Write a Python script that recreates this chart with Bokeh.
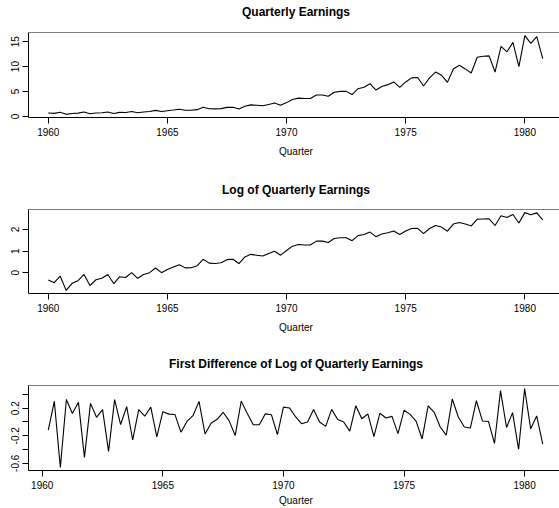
import numpy as np
from bokeh.plotting import figure
from bokeh.layouts import column
from bokeh.models import Range1d, FixedTicker, Span, Title
from bokeh.embed import file_html
from bokeh.resources import INLINE

# ---- data (quarterly earnings per share, 1960-1980) ----
years = list(range(1960, 1981))
quarter_offsets = [0.0, 0.25, 0.5, 0.75]
earnings_by_year = [
    [0.71, 0.63, 0.85, 0.44],
    [0.61, 0.69, 0.92, 0.55],
    [0.72, 0.77, 0.92, 0.60],
    [0.83, 0.80, 1.00, 0.77],
    [0.92, 1.00, 1.24, 1.00],
    [1.16, 1.30, 1.45, 1.25],
    [1.26, 1.38, 1.86, 1.56],
    [1.53, 1.59, 1.83, 1.86],
    [1.53, 2.07, 2.34, 2.25],
    [2.16, 2.43, 2.70, 2.25],
    [2.79, 3.42, 3.69, 3.60],
    [3.60, 4.32, 4.32, 4.05],
    [4.86, 5.04, 5.04, 4.41],
    [5.58, 5.85, 6.57, 5.31],
    [6.03, 6.39, 6.93, 5.85],
    [6.93, 7.74, 7.83, 6.12],
    [7.74, 8.91, 8.28, 6.84],
    [9.54, 10.26, 9.54, 8.73],
    [11.88, 12.06, 12.15, 8.91],
    [14.04, 12.96, 14.85, 9.99],
    [16.20, 14.67, 16.02, 11.61],
]
titles = ["Quarterly Earnings",
          "Log of Quarterly Earnings",
          "First Difference of Log of Quarterly Earnings"]
x_label = "Quarter"
x_ticks = [1960, 1965, 1970, 1975, 1980]
y_ticks_1 = [0, 5, 10, 15]
y_ticks_2 = [0, 1, 2]
y_ticks_3 = [-0.6, -0.4, -0.2, 0.0, 0.2, 0.4]
y_labels_3 = {-0.6: "-0.6", -0.4: "", -0.2: "-0.2", 0.0: "", 0.2: "0.2", 0.4: ""}

t = np.array([y + q for y in years for q in quarter_offsets])
earn = np.array([v for row in earnings_by_year for v in row])
log_earn = np.log(earn)
d_log = np.diff(log_earn)
t_d = t[1:]

FONT = "Liberation Sans"
FIG_W = 559
LEFT = 28
VISIBLE = 531.0 / 534.0   # reference plot box runs just past the right edge


def panel(x, y, title, yticks, overrides, height, top, bottom,
          title_off, spacer_standoff, xlab_off, xlab_standoff):
    px = 0.04 * (x.max() - x.min())
    x0 = x.min() - px
    x1 = x0 + (x.max() + px - x0) * VISIBLE
    py = 0.04 * (y.max() - y.min())
    y0, y1 = y.min() - py, y.max() + py
    p = figure(width=FIG_W, height=height, output_backend="svg", toolbar_location=None,
               x_range=Range1d(x0, x1), y_range=Range1d(y0, y1),
               min_border_left=LEFT, min_border_right=0,
               min_border_top=top, min_border_bottom=bottom,
               background_fill_color="white", border_fill_color="white")
    p.title.text = ""
    p.outline_line_color = None
    p.xgrid.visible = False
    p.ygrid.visible = False
    p.line(x, y, line_color="black", line_width=1.1)
    p.add_layout(Span(location=y1, dimension="width", line_color="black", line_width=1))

    for ax in (p.xaxis[0], p.yaxis[0]):
        ax.axis_line_color = "black"
        ax.axis_line_width = 1
        ax.major_tick_line_color = "black"
        ax.major_tick_out = 6
        ax.major_tick_in = 0
        ax.minor_tick_out = 0
        ax.minor_tick_in = 0
        ax.major_label_text_font = FONT
        ax.major_label_text_font_size = "10px"
        ax.major_label_text_color = "black"
    p.xaxis.ticker = FixedTicker(ticks=x_ticks)
    p.xaxis.major_label_standoff = 4
    p.yaxis.ticker = FixedTicker(ticks=yticks)
    p.yaxis.major_label_orientation = "vertical"
    p.yaxis.major_label_standoff = 3
    if overrides:
        p.yaxis.major_label_overrides = overrides

    # spacer between plot box and title, then the bold title itself
    p.add_layout(Title(text=" ", text_font=FONT, text_font_size="4px",
                       standoff=spacer_standoff), "above")
    p.add_layout(Title(text=title, text_font=FONT, text_font_size="12px",
                       text_font_style="bold", text_color="black",
                       align="left", offset=title_off, standoff=0,
                       vertical_align="top"), "above")
    p.add_layout(Title(text=x_label, text_font=FONT, text_font_size="10px",
                       text_font_style="normal", text_color="black",
                       align="left", offset=xlab_off, standoff=xlab_standoff,
                       vertical_align="bottom"), "below")
    return p


p1 = panel(t, earn, titles[0], y_ticks_1, None, 171, 32, 54, 213.5, 4.8, 250.5, 12.4)
p2 = panel(t, log_earn, titles[1], y_ticks_2, None, 175, 38, 53, 193.5, 3.8, 250.5, 12.4)
p3 = panel(t_d, d_log, titles[2], y_ticks_3, y_labels_3, 162, 39, 38, 140.5, 5.8, 250.5, 3.0)

layout = column(p1, p2, p3, spacing=0)
open("out.html", "w").write(file_html(layout, INLINE))
